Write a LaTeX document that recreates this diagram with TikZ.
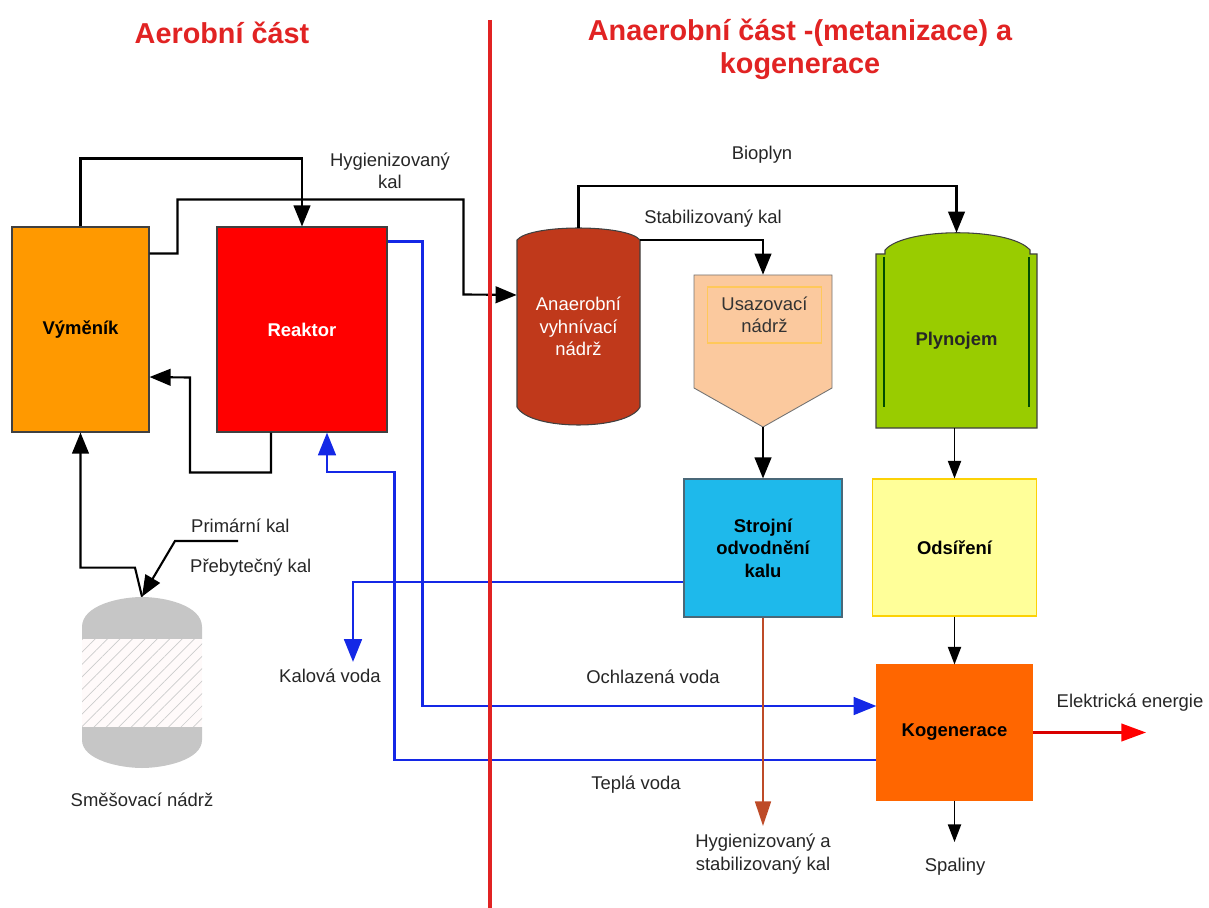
\documentclass[tikz,border=0pt]{standalone}
\usepackage{fontspec}
\setmainfont{Liberation Sans}
\usepackage{tikz}
\usetikzlibrary{arrows.meta, patterns.meta}
\newlength{\px}
\setlength{\px}{0.02cm}
\newcommand{\lblsize}{\fontsize{10.5}{12.8}\selectfont}
\newcommand{\titlesize}{\fontsize{16.4}{18.7}\selectfont}
\definecolor{vymcol}{RGB}{255,153,0}
\definecolor{reakcol}{RGB}{255,0,0}
\definecolor{anacol}{RGB}{192,57,27}
\definecolor{usacol}{RGB}{251,201,158}
\definecolor{usaline}{RGB}{255,200,90}
\definecolor{strojcol}{RGB}{30,185,235}
\definecolor{plyncol}{RGB}{153,204,0}
\definecolor{odscol}{RGB}{255,255,153}
\definecolor{kogcol}{RGB}{255,102,0}
\definecolor{watercol}{RGB}{20,40,230}
\definecolor{titlecol}{RGB}{225,35,35}
\definecolor{sludgecol}{RGB}{190,75,40}

\begin{document}
\begin{tikzpicture}[x=0.02cm, y=-0.02cm,
    box/.style={draw=black!75, line width=0.6pt, font=\lblsize\bfseries, align=center, inner sep=0pt},
    ghost/.style={inner sep=0pt, align=center},
    lbl/.style={font=\lblsize, align=center, text=black!85},
    title/.style={font=\titlesize\bfseries, text=titlecol, align=center},
    flow/.style={draw=black, line width=1.2pt, -{Triangle[length=12pt,width=9.5pt]}},
    thinflow/.style={draw=black, line width=0.8pt, -{Triangle[length=10pt,width=7.5pt]}},
    water/.style={draw=watercol, line width=1.7pt, -{Triangle[length=13pt,width=10pt]}},
    tankline/.style={draw=black!75, line width=0.6pt}]
    \useasboundingbox (0,0) rectangle (1209,908);

    % Titles
    \node[title] (aerotitle) at (222,33) {Aerobní část};
    \node[title] (anaerotitle) at (800,49) {Anaerobní část -(metanizace) a\\kogenerace};

    % Aerobic part
    \node[box, fill=vymcol, minimum width=137\px, minimum height=205\px] (vymenik) at (80.5,329.5) {Výměník};
    \node[box, fill=reakcol, text=white, minimum width=170\px, minimum height=205\px] (reaktor) at (302,329.5) {Reaktor};

    % Mixing tank
    \fill[gray!45] (82,639) -- (82,627) .. controls (82,605) and (120,597) .. (142,597) .. controls (164,597) and (202,605) .. (202,627) -- (202,639) -- cycle;
    \fill[pink!8] (82,639) rectangle (202,727);
    \fill[pattern={Lines[angle=45,distance=5pt,line width=0.4pt]}, pattern color=gray!40] (82,639) rectangle (202,727);
    \fill[gray!45] (82,727) -- (82,740) .. controls (82,760) and (120,768) .. (142,768) .. controls (164,768) and (202,760) .. (202,740) -- (202,727) -- cycle;
    \node[ghost, minimum width=120\px, minimum height=171\px] (mix) at (142,682.5) {};
    \node[lbl] (mixlbl) at (142,800) {Směšovací nádrž};

    % Anaerobic digester
    \draw[tankline, fill=anacol] (517,240) .. controls (530,224) and (627,224) .. (640,240) -- (640,407) .. controls (627,431) and (530,431) .. (517,407) -- cycle;
    \node[ghost, text=white, font=\lblsize, minimum width=123\px, minimum height=197\px] (anaer) at (578.5,326.5) {Anaerobní\\vyhnívací\\nádrž};

    % Settling tank
    \draw[draw=black!55, line width=0.5pt, fill=usacol] (694,275) -- (832,275) -- (832,388) -- (763,427) -- (694,388) -- cycle;
    \node[ghost, minimum width=138\px, minimum height=152\px] (usaz) at (763,351) {};
    \node[ghost, draw=usaline, line width=0.9pt, fill=usacol, font=\lblsize, text=black!80, minimum width=114\px, minimum height=56\px] (usazin) at (764.5,315) {Usazovací\\nádrž};

    % Gas holder
    \draw[tankline, fill=plyncol] (876,254) -- (885,254) -- (885,250) .. controls (905,227) and (1010,227) .. (1030,250) -- (1030,254) -- (1037,254) -- (1037,428) -- (876,428) -- cycle;
    \draw[black!70!green, line width=0.8pt] (884,257) -- (884,407);
    \draw[black!70!green, line width=0.8pt] (1029,257) -- (1029,407);
    \node[ghost, font=\lblsize\bfseries, text=black!85, minimum width=161\px, minimum height=174\px] (plyn) at (956.5,341) {Plynojem};

    % Lower boxes
    \node[box, fill=strojcol, draw=black!60!cyan, minimum width=158\px, minimum height=138\px] (stroj) at (763,548) {Strojní\\odvodnění\\kalu};
    \node[box, fill=odscol, draw=yellow!70!orange, minimum width=164\px, minimum height=137\px] (odsir) at (954.5,547.5) {Odsíření};
    \node[box, fill=kogcol, draw=orange!80!red, minimum width=155\px, minimum height=135\px] (kogen) at (954.5,732.5) {Kogenerace};

    % Free ends
    \coordinate (kalin) at (238,541);
    \coordinate (kalend) at (353,662);
    \coordinate (sludgeend) at (763,826);
    \coordinate (spalend) at (954.5,842);
    \coordinate (elend) at (1146,732.5);

    % Sludge connectors
    \draw[flow] (vymenik.north) -- ++(0,-68) -| (reaktor.north);
    \draw[flow] ([yshift=-27\px]vymenik.north east) -| ++(28,-54) -| ++(286,95) -- (anaer.west |- 0,295);
    \draw[flow] ([xshift=-31\px]reaktor.south) -- ++(0,40) -| ++(-81,-95) -- (vymenik.east |- 0,377);
    \draw[flow] (mix.north) -- ++(-7,-29) -| (vymenik.south);
    \draw[flow] (kalin) -- ++(-63,0) -- (mix.north);
    \draw[flow] (anaer.north) -- ++(0,-42) -| ([yshift=21\px]plyn.north);
    \draw[flow] ([yshift=-12\px]anaer.north east) -| (usaz.north);
    \draw[flow] (usaz.south) -- (stroj.north);
    \draw[thinflow] (odsir.north |- plyn.south) -- (odsir.north);
    \draw[thinflow] (odsir.south) -- (kogen.north);
    \draw[thinflow] (kogen.south) -- (spalend);

    % Water
    \draw[water] ([yshift=-15\px]reaktor.north east) -- ++(35,0) |- (kogen.west |- 0,706);
    \draw[water] (kogen.west |- 0,760) -| ++(-482,-288) -| ([xshift=25\px]reaktor.south);
    \draw[water] (stroj.west |- 0,582) -| (kalend);

    % Outputs
    \draw[draw=sludgecol, line width=1.3pt, -{Triangle[length=14pt,width=9pt]}] (stroj.south) -- (sludgeend);
    \draw[draw=reakcol!85!black, line width=1.2pt, -{Triangle[length=14pt,width=10pt,color=reakcol]}] (kogen.east) -- (elend);

    % Divider
    \draw[draw=titlecol, line width=2.3pt] (490,20) -- (490,908);

    % Labels
    \node[lbl] (hyglbl) at (390,171) {Hygienizovaný\\kal};
    \node[lbl] (biolbl) at (762,155) {Bioplyn};
    \node[lbl] (stablbl) at (713,219) {Stabilizovaný kal};
    \node[lbl, anchor=west] (primlbl) at (185,526) {Primární kal};
    \node[lbl, anchor=west] (preblbl) at (184,568) {Přebytečný kal};
    \node[lbl] (kalvlbl) at (330,676) {Kalová voda};
    \node[lbl] (ochllbl) at (653,677) {Ochlazená voda};
    \node[lbl] (tepllbl) at (636,785) {Teplá voda};
    \node[lbl] (elelbl) at (1130,703) {Elektrická energie};
    \node[lbl] (hyg2lbl) at (763,854) {Hygienizovaný a\\stabilizovaný kal};
    \node[lbl] (spallbl) at (955,867) {Spaliny};
\end{tikzpicture}
\end{document}
